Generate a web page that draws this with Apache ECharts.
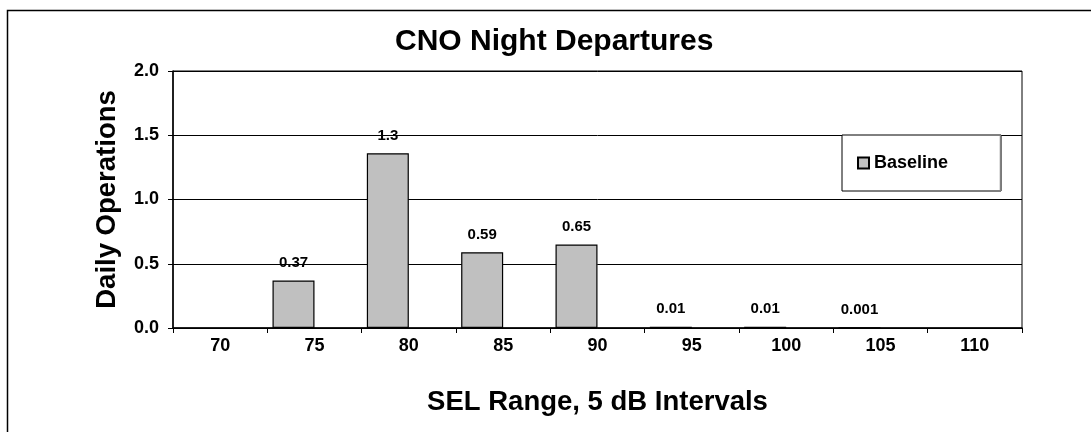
<!DOCTYPE html>
<html>
<head>
<meta charset="utf-8">
<script src="https://cdn.jsdelivr.net/npm/echarts@6/dist/echarts.min.js"></script>
<style>
html,body{margin:0;padding:0;background:#fff;}
#chart{width:1091px;height:432px;}
</style>
</head>
<body>
<div id="chart"></div>
<script>
var categories = ['70', '75', '80', '85', '90', '95', '100', '105', '110'];
var baselineValues = [null, 0.37, 1.36, 0.59, 0.65, 0.01, 0.01, 0.001, null];
var baselineLabels = ['', '0.37', '1.3', '0.59', '0.65', '0.01', '0.01', '0.001', ''];
var yTicks = [0, 0.5, 1.0, 1.5, 2.0];

var FONT = '"Liberation Sans", Arial, sans-serif';
var chart = echarts.init(document.getElementById('chart'), null, {renderer: 'canvas'});
chart.setOption({
  backgroundColor: '#ffffff',
  animation: false,
  graphic: [{
    type: 'rect',
    shape: {x: 7.5, y: 10.5, width: 1200, height: 600},
    style: {fill: 'none', stroke: '#000', lineWidth: 1.5},
    silent: true,
    z: 0
  }, {
    type: 'line',
    shape: {x1: 1000.5, y1: 135, x2: 1000.5, y2: 191},
    style: {stroke: '#808080', lineWidth: 1.5},
    silent: true,
    z: 20
  }],
  title: {
    text: 'CNO Night Departures',
    left: 395,
    top: 27,
    padding: 0,
    textStyle: {fontFamily: FONT, fontWeight: 'bold', fontSize: 30, color: '#000'}
  },
  legend: {
    data: ['Baseline'],
    left: 842,
    top: 135,
    orient: 'vertical',
    padding: [19, 53, 19, 15],
    itemWidth: 11,
    itemHeight: 11,
    itemGap: 7,
    backgroundColor: '#fff',
    borderColor: '#000',
    borderWidth: 1,
    icon: 'rect',
    textStyle: {fontFamily: FONT, fontWeight: 'bold', fontSize: 18, color: '#000', padding: [0, 0, 0, 0]}
  },
  grid: {left: 173, right: 69, top: 71, bottom: 104, show: true, borderColor: '#000', borderWidth: 1, backgroundColor: 'transparent'},
  xAxis: {
    type: 'category',
    data: categories,
    name: 'SEL Range, 5 dB Intervals',
    nameLocation: 'middle',
    nameGap: 60,
    nameTextStyle: {fontFamily: FONT, fontWeight: 'bold', fontSize: 27.5, color: '#000'},
    axisLine: {lineStyle: {color: '#000', width: 1.5}},
    axisTick: {show: true, inside: false, length: 5, alignWithLabel: false, lineStyle: {color: '#000'}},
    axisLabel: {fontFamily: FONT, fontWeight: 'bold', fontSize: 18, color: '#000', margin: 9}
  },
  yAxis: {
    type: 'value',
    min: yTicks[0],
    max: yTicks[yTicks.length - 1],
    interval: 0.5,
    name: 'Daily Operations',
    nameLocation: 'middle',
    nameGap: 52,
    nameTextStyle: {fontFamily: FONT, fontWeight: 'bold', fontSize: 27.5, color: '#000'},
    axisLine: {show: true, lineStyle: {color: '#000', width: 1.5}},
    axisTick: {show: true, length: 5, lineStyle: {color: '#000'}},
    axisLabel: {fontFamily: FONT, fontWeight: 'bold', fontSize: 18, color: '#000', margin: 14,
      formatter: function (v) { return v.toFixed(1); }},
    splitLine: {show: true, lineStyle: {color: '#000', width: 1}}
  },
  series: [{
    name: 'Baseline',
    type: 'bar',
    data: baselineValues,
    barWidth: 42,
    barGap: '0%',
    itemStyle: {color: '#c0c0c0', borderColor: '#000', borderWidth: 1.2},
    label: {
      show: true,
      position: 'top',
      distance: 10,
      fontFamily: FONT, fontWeight: 'bold', fontSize: 15, color: '#000',
      formatter: function (p) { return baselineLabels[p.dataIndex]; }
    },
    z: 3
  }, {
    name: 'spacer',
    type: 'bar',
    data: categories.map(function () { return null; }),
    barWidth: 42,
    barGap: '0%'
  }]
});
</script>
</body>
</html>
